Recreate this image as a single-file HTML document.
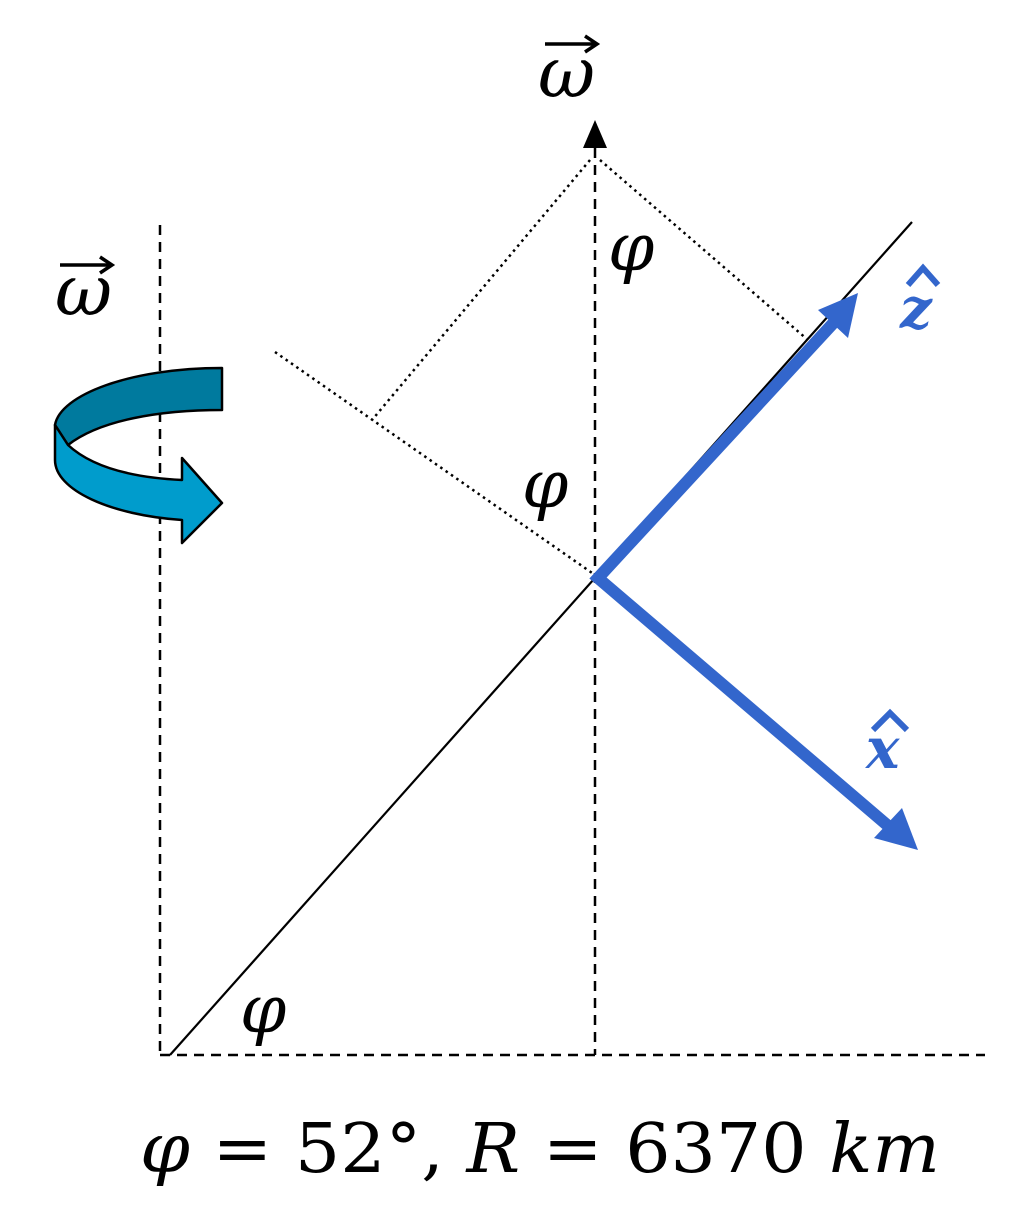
<!DOCTYPE html>
<html><head><meta charset="utf-8"><style>html,body{margin:0;padding:0;background:#fff}svg{display:block}</style></head><body>
<svg width="1035" height="1232" viewBox="0 0 1035 1232" xmlns="http://www.w3.org/2000/svg">
<g stroke="#000" stroke-width="2.5" fill="none" stroke-dasharray="10,7">
<line x1="160" y1="225" x2="160" y2="1055"/>
<line x1="595" y1="148" x2="595" y2="1055"/>
<line x1="160" y1="1055" x2="985" y2="1055"/>
</g>
<polygon points="595,120 583,148 607,148" fill="#000"/>
<line x1="170" y1="1055" x2="912" y2="222" stroke="#000" stroke-width="2.2"/>
<g stroke="#000" stroke-width="2.5" fill="none" stroke-dasharray="2.5,4">
<line x1="590" y1="160" x2="372" y2="420"/>
<line x1="600" y1="160" x2="808" y2="340"/>
<line x1="275" y1="352" x2="595" y2="575"/>
</g>
<g stroke="#3366cc" stroke-width="12" fill="none">
<polyline points="838,318 598,578 900,836"/>
</g>
<polygon points="858,293 848,338 818,310" fill="#3366cc"/>
<polygon points="918,850 874,838 902,808" fill="#3366cc"/>
<g stroke="#000" stroke-width="2.5" stroke-linejoin="round">
<path d="M222,368 L222,410 C160,410 100,420 68,445 L55,425 C60,395 130,368 222,368 Z" fill="#007a9e"/>
<path d="M55,425 L68,445 C95,470 140,478 182,480 L182,458 L222,503 L182,543 L182,520 C110,515 55,490 55,460 Z" fill="#009ccc"/>
</g>
<g font-family="DejaVu Serif, serif" font-style="italic" fill="#000">
<text x="538" y="97" font-size="70">ω</text>
<text x="55" y="315" font-size="70">ω</text>
<text x="608" y="270" font-size="66">φ</text>
<text x="522" y="507" font-size="66">φ</text>
<text x="240" y="1032" font-size="66">φ</text>
</g>
<g stroke="#000" stroke-width="3.5" fill="none">
<line x1="545" y1="44" x2="595" y2="44"/><polyline points="585,36 597,44 585,52"/>
<line x1="60" y1="265" x2="110" y2="265"/><polyline points="100,257 112,265 100,273"/>
</g>
<g font-family="DejaVu Serif, serif" font-style="italic" font-weight="bold" fill="#3366cc">
<text x="900" y="328" font-size="56">z</text>
<text x="866" y="768" font-size="56">x</text>
</g>
<g stroke="#3366cc" stroke-width="6" fill="none">
<polyline points="908,285 923,268 938,285"/>
<polyline points="873,730 890,713 907,730"/>
</g>
<text x="140" y="1172" textLength="800" lengthAdjust="spacingAndGlyphs" font-family="DejaVu Serif, serif" font-size="68" fill="#000"><tspan font-style="italic">φ</tspan> = 52°, <tspan font-style="italic">R</tspan> = 6370 <tspan font-style="italic">km</tspan></text>
</svg>
</body></html>
